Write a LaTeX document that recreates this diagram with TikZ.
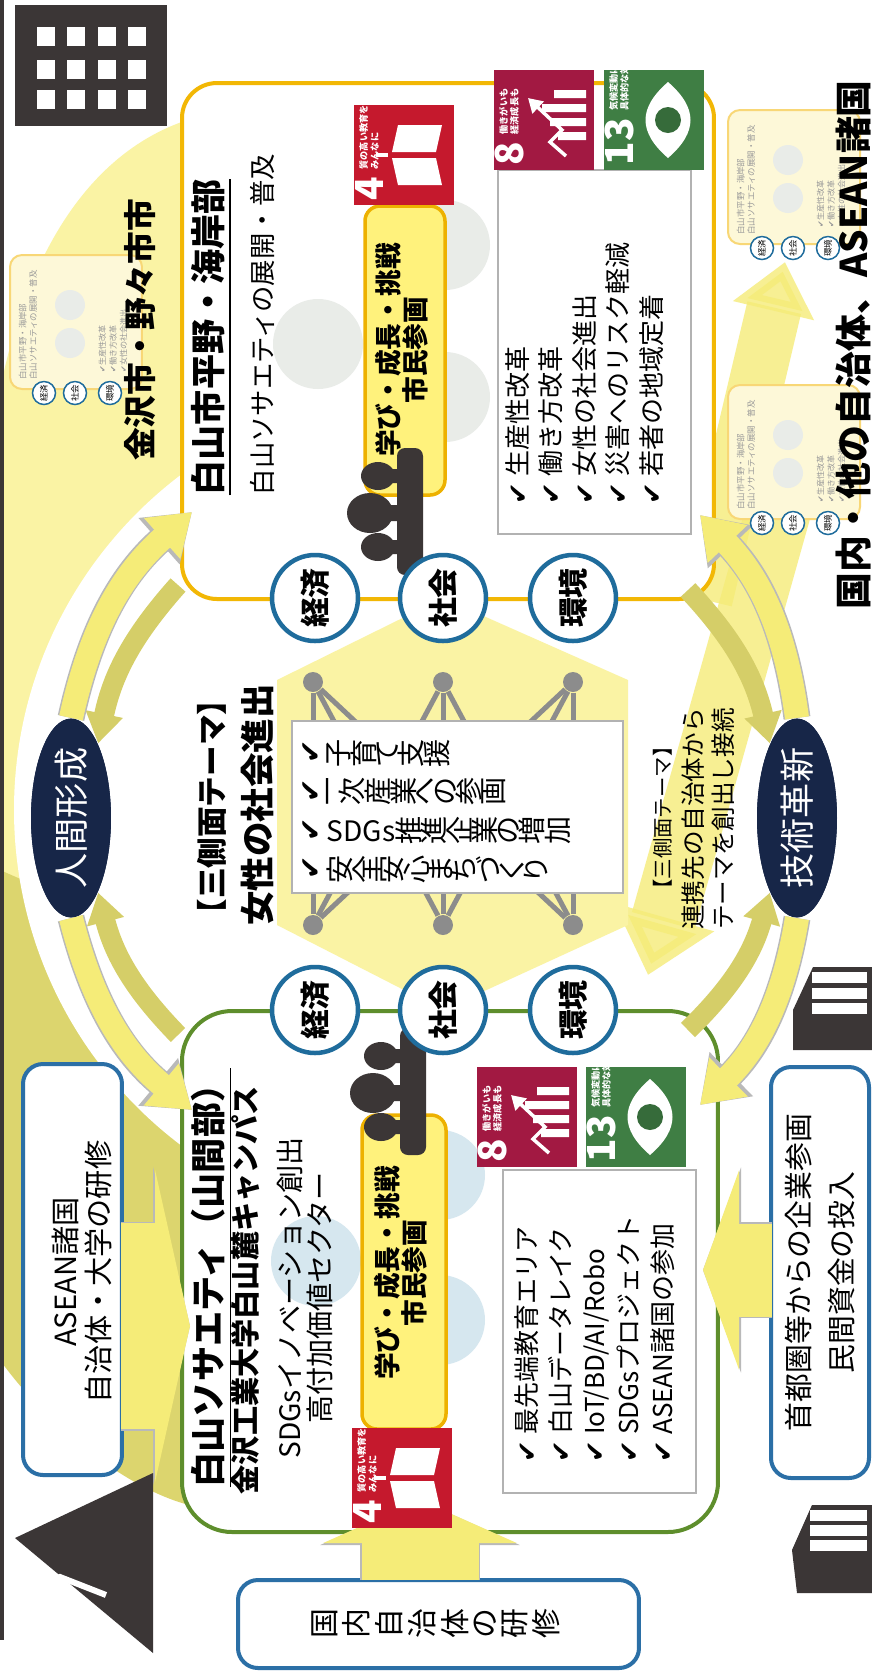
\documentclass[tikz,border=0pt]{standalone}
\usepackage{fontspec}
\usepackage{graphicx}
\setmainfont{Noto Sans CJK JP}
\newfontfamily\symfont{DejaVu Sans}
\usetikzlibrary{arrows.meta,shapes.geometric}

\definecolor{bgyellow}{HTML}{FAF3A4}
\definecolor{bgolive}{HTML}{DCD56E}
\definecolor{hiranoline}{HTML}{F2B705}
\definecolor{sankanline}{HTML}{5E8E2C}
\definecolor{ringblue}{HTML}{1F6C9C}
\definecolor{navy}{HTML}{172648}
\definecolor{panelfill}{HTML}{FFF27C}
\definecolor{panelline}{HTML}{EDB100}
\definecolor{sdgred}{HTML}{C5192D}
\definecolor{sdgmaroon}{HTML}{A21942}
\definecolor{sdggreen}{HTML}{3F7E44}
\definecolor{netgray}{HTML}{8C8C8C}
\definecolor{boxblue}{HTML}{2B6FA6}
\definecolor{iconDark}{HTML}{3B3636}
\definecolor{arrowlight}{HTML}{F5EC78}
\definecolor{arrowolive}{HTML}{D5CE68}
\definecolor{thumbfill}{HTML}{FDF8D8}
\definecolor{bubblegray}{HTML}{E9ECE8}
\definecolor{bubbleblue}{HTML}{D6E7EF}

\newcommand{\fsz}[2]{\fontsize{#1}{#2}\selectfont}
\newcommand{\chk}{{\symfont ✔}}
% upright glyphs, one after another (vertical writing turned on its side)
\newcommand{\tate}[1]{\foreach \ch in {#1}{\raisebox{-.12em}{\rotatebox{90}{\ch}}}}
\newcommand{\tatesp}[2]{\foreach \ch in {#2}{\raisebox{-.12em}{\rotatebox{90}{\ch}}\kern#1}}

% SDG tiles: name, x, y, colour, number, caption, pictogram
\newcommand{\sdgtile}[7]{%
  \begin{scope}[shift={(#2,-#3)}, rotate=90, transform shape]
    \fill[#4] (-50,-50) rectangle (50,50);
    \node[text=white, anchor=west, font=\bfseries\fsz{11}{11}] (#1num) at (-46,35) {#5};
    \node[text=white, anchor=west, align=left, font=\bfseries\fsz{2.6}{3.1}] (#1cap) at ([xshift=0.6mm]#1num.east) {#6};
    #7
  \end{scope}}
\newcommand{\bookicon}{%
  \fill[white] (-30,-38) -- (-3,-32) -- (-3,12) -- (-30,6) -- cycle;
  \fill[white] (30,-38) -- (3,-32) -- (3,12) -- (30,6) -- cycle;
  \fill[white] (-2,16) rectangle (2,28);}
\newcommand{\growthicon}{%
  \fill[white] (-20,-42) rectangle (-12,-14) (-6,-42) rectangle (2,-6)
               (8,-42) rectangle (16,2) (22,-42) rectangle (30,-10);
  \draw[white, line width=0.35mm, -{Triangle[length=1.4mm,width=1.6mm]}]
    (-36,-22) -- (-22,-6) -- (-10,-18) -- (22,16);}
\newcommand{\climateicon}{%
  \fill[white] (-38,-14) .. controls (-12,16) and (12,16) .. (38,-14)
               .. controls (12,-44) and (-12,-44) .. (-38,-14) -- cycle;
  \fill[sdggreen!85!black] (0,-14) circle (13);}

% three people, x and y of the shoulders' top edge
\newcommand{\crowd}[2]{%
  \begin{scope}[shift={(#1,-#2)}]
    \fill[iconDark, rounded corners=0.8mm] (0,0) rectangle (26,-127);
    \fill[iconDark] (-19,-28) ellipse (17 and 14) (-27,-65) ellipse (23 and 20)
                    (-19,-99) ellipse (17 and 14);
    \fill[iconDark] (-10,-21) rectangle (2,-35) (-10,-57) rectangle (2,-73)
                    (-10,-92) rectangle (2,-106);
  \end{scope}}

% small copy of a district panel: name, x, y of its top-left corner
\newcommand{\minimap}[3]{%
  \begin{scope}[shift={(#2,-#3)}]
    \node[thumb, minimum width=13.2mm, minimum height=13.4mm] (#1) at (66,-67) {};
    \fill[bubblegray] (60,-50) circle (15) (60,-88) circle (15);
    \node[vtext, align=left, text=gray!80, font=\fsz{2.4}{3}] (#1head) at (18,-70)
      {白山市平野・海岸部\\白山ソサエティの展開・普及};
    \node[vtext, anchor=north west, align=left, text=gray!80, font=\fsz{2.3}{3}] (#1items) at (88,-118)
      {\chk 生産性改革\\\chk 働き方改革\\\chk 女性の社会進出};
    \foreach \k/\x/\lbl in {a/34/経済, b/65/社会, c/100/環境}
      \node[mini] (#1\k) at (\x,-138) {\lbl};
  \end{scope}}

\begin{document}
\begin{tikzpicture}[x=0.1mm, y=0.1mm,
  every node/.style={inner sep=0pt},
  vtext/.style={rotate=90},
  bigbox/.style={line width=0.4mm, fill=white, rounded corners=3.5mm},
  aspect/.style={circle, draw=ringblue, line width=0.45mm, fill=white, minimum size=8.6mm,
    rotate=90, font=\bfseries\fsz{8.5}{9}},
  theme/.style={ellipse, fill=navy, text=white, minimum width=19mm, minimum height=8mm,
    rotate=90, font=\fsz{10}{10}},
  panel/.style={draw=panelline, line width=0.35mm, fill=panelfill, rounded corners=1.5mm},
  listbox/.style={draw=gray!60, line width=0.12mm, fill=white},
  sidebox/.style={draw=boxblue, line width=0.4mm, fill=white, rounded corners=2mm},
  litarrow/.style={draw=arrowlight, line width=2.4mm, -{Triangle[length=4mm,width=5.2mm]},
    preaction={draw=gray!55, line width=2.7mm, -{Triangle[length=4.4mm,width=5.9mm]}}},
  olvarrow/.style={draw=arrowolive, line width=2mm, -{Triangle[length=3mm,width=3.6mm]}},
  fatarrow/.style={draw=arrowlight, line cap=butt},
  netline/.style={draw=netgray, line width=0.5mm},
  netdot/.style={circle, fill=netgray, minimum size=2mm},
  thumb/.style={draw=hiranoline!55, line width=0.2mm, fill=thumbfill, rounded corners=1.2mm},
  mini/.style={circle, draw=ringblue, line width=0.15mm, fill=white, minimum size=2.3mm,
    rotate=90, font=\fsz{2.4}{3}}
]
\useasboundingbox (0,0) rectangle (872,-1677);
\fill[white] (0,0) rectangle (872,-1677);

% background fields
\fill[bgyellow] (0,-390) .. controls (30,-240) and (100,-140) .. (205,-115)
  -- (205,-1010) -- (0,-1010) -- cycle;
\fill[bgolive] (0,-870) -- (205,-960) -- (205,-1508)
  .. controls (140,-1500) and (50,-1430) .. (0,-1360) -- cycle;
\fill[white] (434,-810) circle (420);
\fill[iconDark] (0,0) rectangle (4,-1640);

% links to the other towns
\coordinate (upFrom) at (705,-600);
\coordinate (upTo) at (785,-262);
\draw[fatarrow, line width=5.5mm, opacity=.8, -{Triangle[length=5mm,width=8mm]}] (upFrom) -- (upTo);
\coordinate (dnFrom) at (790,-470);
\coordinate (dnTo) at (648,-975);
\draw[fatarrow, line width=6.5mm, opacity=.8, -{Triangle[length=6mm,width=10mm]}] (dnFrom) -- (dnTo);

% centre: theme network
\fill[bgyellow] (443,-598) -- (628,-680) -- (628,-925) -- (443,-1010)
  -- (277,-925) -- (277,-680) -- cycle;
\foreach \i/\x in {1/313,2/443,3/573} {
  \node[netdot] (nt\i) at (\x,-682) {};
  \node[netdot] (nb\i) at (\x,-925) {};
}
\foreach \i in {1,2,3}
  \foreach \j in {1,2,3}
    \draw[netline] (nt\i) -- (nb\j);
\node[listbox, minimum width=33.1mm, minimum height=17.2mm] (temaBox) at (457.5,-807) {};
\node[anchor=west, align=left, font=\fsz{8}{11}] (temaItems) at (302,-811) {%
  \rotatebox{90}{\chk}\ \tate{子,育,て,支,援}\\
  \rotatebox{90}{\chk}\ \tate{一,次,産,業,へ,の,参,画}\\
  \rotatebox{90}{\chk}\ SDGs\tate{推,進,企,業,の,増,加}\\
  \rotatebox{90}{\chk}\ \tate{安,全,安,心,ま,ち,づ,く,り}};
\node[vtext, font=\bfseries\fsz{8.7}{9}] (temaHead) at (212,-807) {【三側面テーマ】};
\node[vtext, font=\bfseries\fsz{9.8}{10}] (temaName) at (257,-805) {女性の社会進出};
\node[vtext, font=\fsz{5.8}{6}] (linkHead) at (663,-818) {【三側面テーマ】};
\node[vtext, align=center, font=\fsz{7}{8.5}] (linkText) at (708,-819)
  {連携先の自治体から\\テーマを創出し接続};

% district panels
\node[bigbox, draw=hiranoline, minimum width=53.2mm, minimum height=51.6mm] (hirano) at (448,-341) {};
\node[bigbox, draw=sankanline, minimum width=53.6mm, minimum height=52.1mm, rounded corners=5mm] (sankan) at (450,-1271.5) {};
\fill[bubblegray] (318,-344) circle (45) (445,-245) circle (45) (445,-397) circle (45);
\fill[bubbleblue] (316,-1261) circle (45) (440,-1175) circle (45) (440,-1320) circle (45);

% plains and coast
\node[vtext, anchor=west, font=\bfseries\fsz{10}{10}] (hiranoTitle) at (212,-496) {\underline{白山市平野・海岸部}};
\node[vtext, anchor=west, font=\fsz{7.5}{8}] (hiranoSub) at (262,-496) {白山ソサエティの展開・普及};
\node[panel, minimum width=8mm, minimum height=28.9mm] (hiranoPanel) at (405,-350.5) {};
\node[vtext, align=center, font=\bfseries\fsz{7.6}{7.7}] (hiranoMotto) at (402,-350) {学び・成長・挑戦\\市民参画};
\node[listbox, minimum width=19.3mm, minimum height=36.4mm] (hiranoList) at (594.5,-352) {};
\node[vtext, anchor=north west, align=left, font=\fsz{7.4}{9.5}] (hiranoItems) at (505,-505)
  {\chk\ 生産性改革\\\chk\ 働き方改革\\\chk\ 女性の社会進出\\\chk\ 災害へのリスク軽減\\\chk\ 若者の地域定着};
\sdgtile{hiranoFour}{404}{155}{sdgred}{4}{質の高い教育を\\みんなに}{\bookicon}
\sdgtile{hiranoEight}{544}{120}{sdgmaroon}{8}{働きがいも\\経済成長も}{\growthicon}
\sdgtile{hiranoThirteen}{654}{120}{sdggreen}{13}{気候変動に\\具体的な対策を}{\climateicon}
\crowd{397}{448}

% mountain area
\node[vtext, anchor=west, font=\bfseries\fsz{10}{10}] (sankanTitle) at (212,-1488) {\underline{白山ソサエティ（山間部）}};
\node[vtext, font=\bfseries\fsz{8.3}{9}] (kitCampus) at (246,-1290) {金沢工業大学白山麓キャンパス};
\node[vtext, align=center, font=\fsz{8}{8.6}] (kitSector) at (305,-1298) {SDGsイノベーション創出\\高付加価値セクター};
\node[panel, minimum width=8.4mm, minimum height=31.4mm] (sankanPanel) at (404,-1272) {};
\node[vtext, align=center, font=\bfseries\fsz{7.6}{7.7}] (sankanMotto) at (401,-1273) {学び・成長・挑戦\\市民参画};
\node[listbox, minimum width=19.3mm, minimum height=32.3mm] (sankanList) at (599.5,-1331.5) {};
\node[vtext, anchor=north west, align=left, font=\fsz{7.4}{9.7}] (sankanItems) at (514,-1463)
  {\chk\ 最先端教育エリア\\\chk\ 白山データレイク\\\chk\ IoT/BD/AI/Robo\\\chk\ SDGsプロジェクト\\\chk\ ASEAN諸国の参加};
\sdgtile{sankanEight}{527}{1117}{sdgmaroon}{8}{働きがいも\\経済成長も}{\growthicon}
\sdgtile{sankanThirteen}{636}{1117}{sdggreen}{13}{気候変動に\\具体的な対策を}{\climateicon}
\crowd{400}{1028}

% inputs from outside
\node[sidebox, rotate=90, minimum width=41.1mm, minimum height=9.9mm] (asean) at (72.5,-1269.5) {};
\node[vtext, align=center, font=\fsz{8.3}{9.2}] (aseanText) at (82,-1272) {ASEAN諸国\\自治体・大学の研修};
\coordinate (aseanOut) at (121,-1326);
\coordinate (aseanIn) at (190,-1326);
\draw[fatarrow, line width=20.6mm, -{Triangle[length=3.5mm,width=31.2mm]},
  preaction={draw=gray!55, line width=20.9mm, -{Triangle[length=3.7mm,width=31.8mm]}}] (aseanOut) -- (aseanIn);

\node[sidebox, rotate=90, minimum width=41.1mm, minimum height=9.8mm, align=center,
  font=\fsz{8.2}{12.5}] (shutoken) at (820,-1272.5) {首都圏等からの企業参画\\民間資金の投入};
\coordinate (shutokenOut) at (772,-1270);
\coordinate (shutokenIn) at (703,-1270);
\draw[fatarrow, line width=9.3mm, -{Triangle[length=3.6mm,width=19.8mm]},
  preaction={draw=gray!55, line width=9.6mm, -{Triangle[length=3.8mm,width=20.4mm]}}] (shutokenOut) -- (shutokenIn);

\node[sidebox, minimum width=40.1mm, minimum height=8.8mm, font=\fsz{8.5}{9}] (kokunai) at (438.5,-1624)
  {\tatesp{1.5pt}{国,内,自,治,体,の,研,修}};
\coordinate (kokunaiOut) at (420,-1580);
\coordinate (kokunaiIn) at (420,-1500);
\draw[fatarrow, line width=11.7mm, -{Triangle[length=4.3mm,width=19.2mm]},
  preaction={draw=gray!55, line width=12mm, -{Triangle[length=4.5mm,width=19.8mm]}}] (kokunaiOut) -- (kokunaiIn);
\sdgtile{sankanFour}{402}{1478}{sdgred}{4}{質の高い教育を\\みんなに}{\bookicon}

% three aspects on both panels
\foreach \n/\x/\lbl in {keizai/315/経済, shakai/443/社会, kankyo/573/環境} {
  \node[aspect] (\n T) at (\x,-598) {\lbl};
  \node[aspect] (\n B) at (\x,-1010) {\lbl};
}

% the ring
\coordinate (hiranoInL) at (192,-512);
\coordinate (hiranoOutL) at (178,-585);
\coordinate (sankanInL) at (192,-1110);
\coordinate (sankanOutL) at (178,-1035);
\coordinate (hiranoInR) at (700,-515);
\coordinate (hiranoOutR) at (688,-590);
\coordinate (sankanInR) at (700,-1105);
\coordinate (sankanOutR) at (688,-1030);
\node[theme] (ningen) at (71,-818) {人間形成};
\node[theme] (gijutsu) at (797,-818) {技術革新};
\draw[olvarrow] (hiranoOutL) to[bend right=15] (ningen.-20);
\draw[olvarrow] (sankanOutL) to[bend left=15] (ningen.-160);
\draw[olvarrow] (hiranoOutR) to[bend left=15] (gijutsu.20);
\draw[olvarrow] (sankanOutR) to[bend right=15] (gijutsu.160);
\draw[litarrow] (ningen.east) to[bend left=18] (hiranoInL);
\draw[litarrow] (ningen.west) to[bend right=18] (sankanInL);
\draw[litarrow] (gijutsu.east) to[bend right=18] (hiranoInR);
\draw[litarrow] (gijutsu.west) to[bend left=18] (sankanInR);
\node[theme] at (ningen) {人間形成};
\node[theme] at (gijutsu) {技術革新};

% icons
\fill[iconDark] (15,-5) rectangle (167,-126);
\foreach \x in {37,67,98,128}
  \foreach \y in {27,60,90}
    \fill[white] (\x,-\y) rectangle ++(18,-19);
\fill[iconDark] (813,-967) -- (872,-967) -- (872,-1050) -- (793,-1050) -- (793,-1010) -- cycle;
\foreach \y in {972,988,1003}
  \fill[white] (812,-\y) rectangle (867,-\y-11);
\fill[iconDark] (812,-1505) -- (872,-1505) -- (872,-1593) -- (797,-1593) -- (792,-1550) -- cycle;
\foreach \y in {1510,1525,1540}
  \fill[white] (810,-\y) rectangle (867,-\y-11);
\fill[iconDark] (15,-1538) -- (153,-1473) -- (153,-1653) -- cycle;
\draw[white, line width=0.6mm] (28,-1590) -- (60,-1577) -- (106,-1595);

% neighbouring towns
\minimap{kanazawaMap}{10}{255}
\node[vtext, font=\bfseries\fsz{9.3}{10}] (kanazawa) at (140,-330) {金沢市・野々市市};
\minimap{aseanMap}{728}{110}
\minimap{townMap}{728}{385}
\node[vtext, font=\bfseries\fsz{10.5}{11}] (partners) at (853,-345) {国内・他の自治体、ASEAN諸国};
\end{tikzpicture}
\end{document}
